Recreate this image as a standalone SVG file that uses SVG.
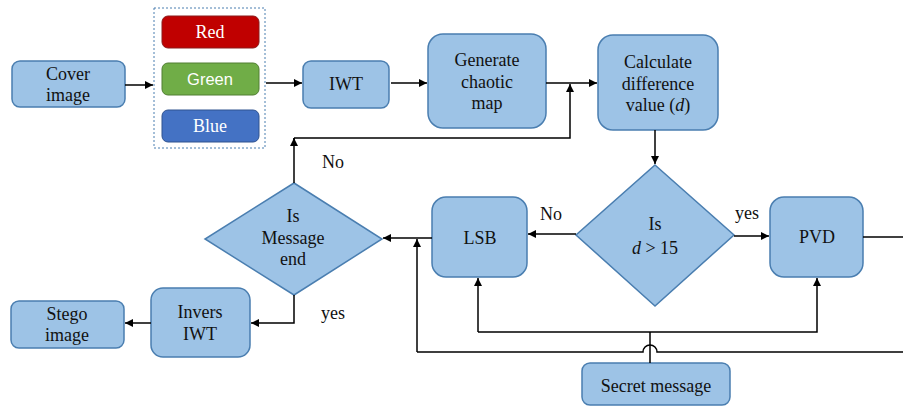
<svg xmlns="http://www.w3.org/2000/svg" width="903" height="409" viewBox="0 0 903 409">
<style>
.box{fill:#9DC3E6;stroke:#4A7EB0;stroke-width:1.5}
.ln{fill:none;stroke:#000;stroke-width:1.5}
</style>
<defs>
<marker id="ah" viewBox="0 0 10 10" refX="10" refY="5" markerWidth="8" markerHeight="8" markerUnits="userSpaceOnUse" orient="auto">
<path d="M0,0 L10,5 L0,10 z" fill="#000"/>
</marker>
</defs>
<rect width="903" height="409" fill="#fff"/>

<g font-family="Liberation Serif, Times New Roman, serif" font-size="18" text-anchor="middle" fill="#111">
<g id="cover"><rect class="box" x="12" y="61" width="113" height="46" rx="8"/><text x="68" y="80">Cover</text><text x="68" y="101">image</text></g>
<g id="channels">
<rect x="154" y="8" width="111" height="140" fill="none" stroke="#4A7EB0" stroke-width="1" stroke-dasharray="2,2"/>
<g id="red"><rect x="162" y="16" width="97" height="32" rx="6" fill="#C00000" stroke="#8B1A1A" stroke-width="1"/><text fill="#fff" x="210" y="38">Red</text></g>
<g id="green"><rect x="162" y="63" width="97" height="32" rx="6" fill="#70AD47" stroke="#507E32" stroke-width="1"/><text x="210" y="85" font-family="Liberation Sans, Arial, sans-serif" font-size="16.5" fill="#fff">Green</text></g>
<g id="blue"><rect x="162" y="110" width="97" height="32" rx="6" fill="#4472C4" stroke="#2F528F" stroke-width="1"/><text fill="#fff" x="210" y="132">Blue</text></g>
</g>
<g id="iwt"><rect class="box" x="303" y="61" width="86" height="47" rx="8"/><text x="346" y="90">IWT</text></g>
<g id="gen"><rect class="box" x="428" y="34" width="118" height="94" rx="15"/><text x="487" y="66">Generate</text><text x="487" y="88">chaotic</text><text x="487" y="109">map</text></g>
<g id="calc"><rect class="box" x="598" y="35" width="120" height="95" rx="15"/><text x="658" y="68">Calculate</text><text x="658" y="90">difference</text><text x="658" y="111">value (<tspan font-style="italic">d</tspan>)</text></g>
<g id="dec1"><polygon class="box" points="655,165 734,235 655,306 576,235"/><text x="655" y="230">Is</text><text x="655" y="254"><tspan font-style="italic">d</tspan> &gt; 15</text></g>
<g id="pvd"><rect class="box" x="770" y="197" width="93" height="80" rx="14"/><text x="817" y="243">PVD</text></g>
<g id="lsb"><rect class="box" x="432" y="197" width="95" height="80" rx="14"/><text x="480" y="244">LSB</text></g>
<g id="dec2"><polygon class="box" points="294,183 382,239 294,295 205,239"/><text x="293" y="222">Is</text><text x="293" y="244">Message</text><text x="293" y="265">end</text></g>
<g id="inv"><rect class="box" x="151" y="288" width="99" height="69" rx="12"/><text x="200" y="318">Invers</text><text x="200" y="340">IWT</text></g>
<g id="stego"><rect class="box" x="11" y="301" width="113" height="47" rx="8"/><text x="67" y="320">Stego</text><text x="67" y="341">image</text></g>
<g id="secret"><rect class="box" x="582" y="363" width="148" height="42" rx="8"/><text x="656" y="392">Secret message</text></g>
</g>

<g id="connectors">
<line class="ln" x1="125" y1="85" x2="153" y2="85" marker-end="url(#ah)"/>
<line class="ln" x1="266" y1="83" x2="302" y2="83" marker-end="url(#ah)"/>
<line class="ln" x1="391" y1="83" x2="427" y2="83" marker-end="url(#ah)"/>
<line class="ln" x1="546" y1="83" x2="597" y2="83" marker-end="url(#ah)"/>
<polyline class="ln" points="294,183 294,138"/>
<line class="ln" x1="294" y1="146" x2="294" y2="138" marker-end="url(#ah)"/>
<polyline class="ln" points="294,138 570,138 570,84" marker-end="url(#ah)"/>
<line class="ln" x1="655" y1="130" x2="655" y2="164" marker-end="url(#ah)"/>
<line class="ln" x1="734" y1="236" x2="769" y2="236" marker-end="url(#ah)"/>
<line class="ln" x1="863" y1="237" x2="903" y2="237"/>
<line class="ln" x1="576" y1="234" x2="528" y2="234" marker-end="url(#ah)"/>
<line class="ln" x1="432" y1="238" x2="383" y2="238" marker-end="url(#ah)"/>
<line class="ln" x1="417" y1="352" x2="417" y2="239" marker-end="url(#ah)"/>
<polyline class="ln" points="294,295 294,323 251,323" marker-end="url(#ah)"/>
<line class="ln" x1="151" y1="323" x2="125" y2="323" marker-end="url(#ah)"/>
<polyline class="ln" points="478,332 478,278" marker-end="url(#ah)"/>
<polyline class="ln" points="478,332 817,332 817,278" marker-end="url(#ah)"/>
<line class="ln" x1="650" y1="363" x2="650" y2="332"/>
<path class="ln" d="M417,352 H643 A7,7 0 0 1 657,352 H903"/>
</g>
<g id="labels" font-family="Liberation Serif, Times New Roman, serif" font-size="18" text-anchor="middle" fill="#111">
<text x="333" y="168">No</text>
<text x="551" y="220">No</text>
<text x="747" y="219">yes</text>
<text x="333" y="319">yes</text>
</g>
</svg>
